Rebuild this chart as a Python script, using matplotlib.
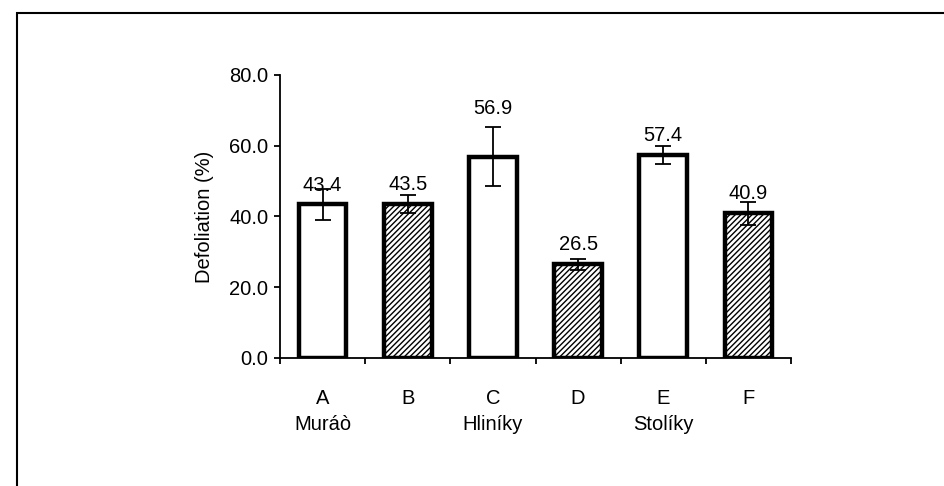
import numpy as np
import matplotlib.pyplot as plt
import matplotlib.patches as patches

plt.rcParams['font.family'] = ['Liberation Sans', 'DejaVu Sans']
plt.rcParams['hatch.linewidth'] = 1.0
plt.rcParams['hatch.color'] = '#444444'

# data
groups = ['A', 'B', 'C', 'D', 'E', 'F']
sites = ['Muráò', '', 'Hliníky', '', 'Stolíky', '']
defoliation = [43.4, 43.5, 56.9, 26.5, 57.4, 40.9]
errors = [4.3, 2.5, 8.3, 1.6, 2.5, 3.3]
hatched = [False, True, False, True, False, True]
# label offset above bar top (points) - C sits above its error bar
label_offsets = [14, 14, 35, 14, 14, 14]

fs = 14.5

fig = plt.figure(figsize=(9.44, 4.86), dpi=100)
ax = fig.add_axes([0.2966, 0.2634, 0.8380 - 0.2966, 0.8457 - 0.2634])

# outer frame (only left and top edges visible)
fig.patches.append(patches.Rectangle((17 / 944, -0.1), 1.0, 1 - 13 / 486 + 0.1,
                                     transform=fig.transFigure, fill=False,
                                     edgecolor='black', linewidth=1.5))

x = np.arange(len(groups))
for i in range(len(groups)):
    ax.bar(x[i], defoliation[i], width=0.56, color='white', edgecolor='black',
           linewidth=3.2, hatch='//////' if hatched[i] else None, zorder=2)
ax.errorbar(x, defoliation, yerr=errors, fmt='none', ecolor='black',
            elinewidth=1.3, capsize=6, capthick=1.3, zorder=3)

for i in range(len(groups)):
    ax.annotate('%.1f' % defoliation[i], (x[i], defoliation[i]),
                xytext=(0, label_offsets[i]), textcoords='offset points',
                ha='center', va='center', fontsize=fs, zorder=4)

ax.set_xlim(-0.5, len(groups) - 0.5)
ax.set_ylim(0, 80)
ax.set_yticks([0, 20, 40, 60, 80])
ax.set_yticklabels(['%.1f' % v for v in [0, 20, 40, 60, 80]], fontsize=fs)
ax.set_ylabel('Defoliation (%)', fontsize=fs, labelpad=11)

# category boundary ticks
ax.set_xticks(np.arange(-0.5, len(groups), 1.0))
ax.set_xticklabels([])
for i in range(len(groups)):
    ax.annotate(groups[i], (x[i], 0), xytext=(0, -29), textcoords='offset points',
                xycoords=('data', 'axes fraction'), ha='center', va='center', fontsize=fs)
    if sites[i]:
        ax.annotate(sites[i], (x[i], 0), xytext=(0, -48), textcoords='offset points',
                    xycoords=('data', 'axes fraction'), ha='center', va='center', fontsize=fs)

ax.spines['top'].set_visible(False)
ax.spines['right'].set_visible(False)
ax.spines['left'].set_linewidth(1.3)
ax.spines['bottom'].set_linewidth(1.3)
ax.tick_params(axis='both', direction='out', length=4.5, width=1.3, pad=4)

fig.savefig('out.png', dpi=100)
